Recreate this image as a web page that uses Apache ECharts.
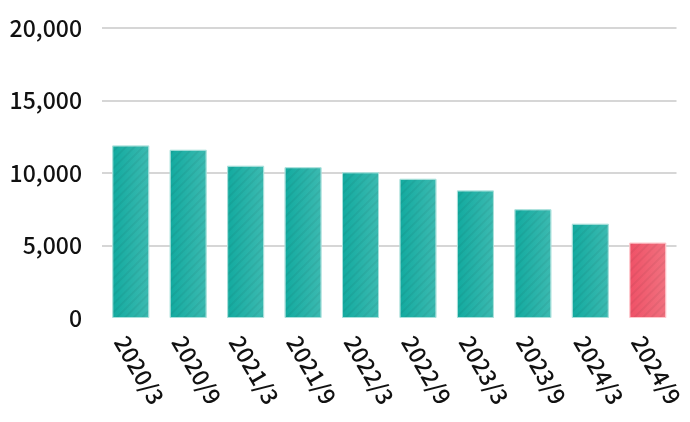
<!DOCTYPE html>
<html>
<head>
<meta charset="utf-8">
<script src="https://cdn.jsdelivr.net/npm/echarts@6/dist/echarts.min.js"></script>
<style>
  html, body { margin: 0; padding: 0; background: #fff; }
  #chart { width: 690px; height: 422px; }
</style>
</head>
<body>
<div id="chart"></div>
<script>
// periods and values
const periods = ['2020/3', '2020/9', '2021/3', '2021/9', '2022/3', '2022/9', '2023/3', '2023/9', '2024/3', '2024/9'];
const values = [11900, 11600, 10500, 10400, 10050, 9600, 8800, 7500, 6500, 5200];
const highlightIndex = 9;

const FONT = '"Noto Sans CJK JP", "Noto Sans", sans-serif';

function grad(c1, c2) {
  return new echarts.graphic.LinearGradient(0, 0, 1, 0, [
    { offset: 0, color: c1 },
    { offset: 1, color: c2 }
  ]);
}

const stripes = {
  symbol: 'rect',
  symbolSize: 1,
  dashArrayX: [1, 0],
  dashArrayY: [2, 4],
  rotation: -Math.PI / 4,
  color: 'rgba(0,0,0,0.05)'
};

let myChart = echarts.init(document.getElementById('chart'));

let option = {
  animation: false,
  grid: { left: 102, right: 13.5, top: 28, bottom: 104 },
  xAxis: {
    type: 'category',
    data: periods,
    axisLine: { show: false },
    axisTick: { show: false },
    axisLabel: {
      rotate: -60,
      align: 'left',
      verticalAlign: 'top',
      margin: 14,
      fontSize: 23,
      fontWeight: 500,
      color: '#111',
      fontFamily: FONT,
      interval: 0
    }
  },
  yAxis: {
    type: 'value',
    min: 0,
    max: 20000,
    interval: 5000,
    axisLine: { show: false },
    axisTick: { show: false },
    axisLabel: { margin: 20, fontSize: 23, fontWeight: 500, color: '#111', fontFamily: FONT },
    splitLine: { showMinLine: false, lineStyle: { color: '#d6d6d6', width: 2 } }
  },
  series: [{
    type: 'bar',
    barWidth: 37,
    data: values.map(function (v, i) {
      let hi = i === highlightIndex;
      return {
        value: v,
        itemStyle: {
          color: hi ? grad('#ef5167', '#f1717f') : grad('#12aa9f', '#3cbab1'),
          borderColor: hi ? 'rgba(255,200,205,0.8)' : 'rgba(170,225,220,0.8)',
          borderWidth: 1,
          decal: stripes
        }
      };
    })
  }]
};

myChart.setOption(option);
</script>
</body>
</html>
